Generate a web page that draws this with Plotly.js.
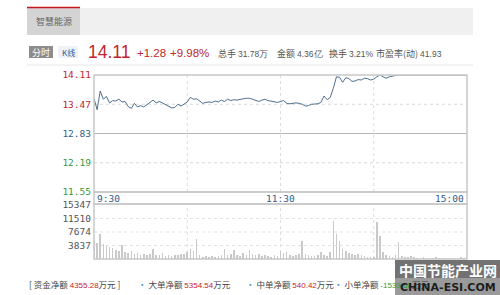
<!DOCTYPE html>
<html><head><meta charset="utf-8">
<script src="https://cdn.plot.ly/plotly-3.0.1.min.js"></script>
<style>html,body{margin:0;padding:0;background:#fff;}#c{width:500px;height:295px;}</style>
</head><body><div id="c"></div>
<script>
// ---- data ----
const stockName = "智慧能源";
const lastPrice = "14.11", change = "+1.28", changePct = "+9.98%";
const statLabels = ["总手", "金额", "换手", "市盈率(动)"];
const statValues = ["31.78万", "4.36亿", "3.21%", "41.93"];
const priceTicks = [11.55, 12.19, 12.83, 13.47, 14.11];
const prevClose = 12.83;
const volTicks = [3837, 7674, 11510, 15347];
const timeLabels = ["9:30", "11:30", "15:00"];
const timeTickPos = [0, 120, 240];
// minute offsets in the trading session (2-minute steps)
const prices = [13.60,13.35,13.76,13.58,13.64,13.50,13.55,13.54,13.58,13.52,
13.53,13.42,13.38,13.49,13.41,13.44,13.41,13.46,13.53,13.56,
13.50,13.53,13.50,13.46,13.43,13.39,13.40,13.47,13.43,13.48,
13.52,13.62,13.58,13.59,13.54,13.49,13.51,13.52,13.51,13.54,
13.52,13.56,13.53,13.58,13.55,13.57,13.56,13.58,13.59,13.60,
13.60,13.58,13.55,13.53,13.56,13.58,13.55,13.54,13.52,13.51,
13.53,13.55,13.49,13.48,13.49,13.50,13.49,13.47,13.43,13.44,
13.47,13.48,13.48,13.51,13.65,13.57,13.62,13.82,14.07,14.06,
13.95,14.05,14.03,13.97,13.98,14.01,14.00,14.04,14.03,14.00,
14.02,14.07,14.11,14.07,14.04,14.07,14.09,14.10,14.11,14.11,
14.11,14.11,14.11,14.11,14.11,14.11,14.11,14.11,14.11,14.11,
14.11,14.11,14.11,14.11,14.11,14.11,14.11,14.11,14.11,14.11,14.11];
const volumes = [5200,4500,7000,4200,3600,3300,3000,2600,2200,4000,
2000,1800,2200,1500,1700,1200,1400,1000,1300,2800,
1200,1000,1600,900,1100,800,1200,1000,1300,1500,
2000,2800,2200,5600,1200,700,800,600,900,700,
800,1000,2800,1000,1400,2500,1200,900,1600,1200,
2500,1400,1000,1300,900,1000,800,700,1000,900,
2200,1800,2000,1200,900,1000,1300,5100,1500,1200,
900,800,1000,2000,1000,900,2000,10900,7200,5000,
2800,2300,1800,1500,1200,1400,1100,800,600,500,
700,10500,6500,2000,1200,800,700,1000,4900,900,
600,500,900,450,400,350,500,300,400,350,
450,300,400,350,300,400,350,300,450,400,500];
const flowLabels = ["资金净额", "大单净额", "中单净额", "小单净额"];
const flowValues = ["4355.28", "5354.54", "540.42", "-1539.68"];
const flowUnit = "万元";
const watermark = ["中国节能产业网", "CHINA-ESI.COM"];

// ---- build ----
const minutes = prices.map((_, i) => i * 2);
const RED = "#c0262d", GREEN = "#2f9a3a", BLUE = "#2f5d8a", GRAY = "#555";
const W = 500, H = 295;
const px = x => x / W, py = y => 1 - y / H;
const XD = [px(94), px(467)];
const YD1 = [py(192), py(75)];
const YD2 = [py(259), py(205)];

const priceTickText = priceTicks.map(v => {
  const c = v > prevClose ? RED : (v < prevClose ? GREEN : BLUE);
  return '<span style="color:' + c + '">' + v.toFixed(2) + '</span>';
});

const traces = [
  {x: minutes, y: prices, type: 'scatter', mode: 'lines', xaxis: 'x', yaxis: 'y',
   line: {color: '#4f6f8f', width: 1}, hoverinfo: 'skip'},
  {x: minutes, y: volumes, type: 'bar', xaxis: 'x2', yaxis: 'y2', width: 1.0,
   marker: {color: '#c9c9c9', line: {width: 0}}, hoverinfo: 'skip'}
];

const shapes = [];
const anns = [];
// header bar
shapes.push({type:'rect', xref:'paper', yref:'paper', x0:px(27), x1:px(473), y0:py(35), y1:py(8), fillcolor:'#f0f0f0', line:{width:0}, layer:'below'});
shapes.push({type:'rect', xref:'paper', yref:'paper', x0:px(27), x1:px(80), y0:py(35), y1:py(8), fillcolor:'#d4d4d4', line:{width:0}, layer:'below'});
shapes.push({type:'line', xref:'paper', yref:'paper', x0:px(27), x1:px(80), y0:py(7.5), y1:py(7.5), line:{color:'#c8161d', width:1.5}});
anns.push({xref:'paper', yref:'paper', x:px(54), y:py(21.5), text:stockName, showarrow:false, xanchor:'center', yanchor:'middle', font:{family:'Noto Sans CJK SC', size:9, color:'#666'}});
// row 2
shapes.push({type:'rect', xref:'paper', yref:'paper', x0:px(29), x1:px(53), y0:py(58), y1:py(46), fillcolor:'#8c8c8c', line:{width:0}, layer:'below'});
shapes.push({type:'rect', xref:'paper', yref:'paper', x0:px(58), x1:px(78), y0:py(58), y1:py(46), fillcolor:'#eef1f6', line:{width:0}, layer:'below'});
anns.push({xref:'paper', yref:'paper', x:px(41), y:py(52), text:'分时', showarrow:false, xanchor:'center', yanchor:'middle', font:{family:'Noto Sans CJK SC', size:9, color:'#fff'}});
anns.push({xref:'paper', yref:'paper', x:px(68), y:py(52), text:'K线', showarrow:false, xanchor:'center', yanchor:'middle', font:{family:'Noto Sans CJK SC', size:8, color:'#2f5d9a'}});
anns.push({xref:'paper', yref:'paper', x:px(86), y:py(52), text:lastPrice, showarrow:false, xanchor:'left', yanchor:'middle', font:{family:'Liberation Sans', size:17.5, color:RED}});
anns.push({xref:'paper', yref:'paper', x:px(135), y:py(53), text:change, showarrow:false, xanchor:'left', yanchor:'middle', font:{family:'Liberation Sans', size:11.5, color:RED}});
anns.push({xref:'paper', yref:'paper', x:px(168), y:py(53), text:changePct, showarrow:false, xanchor:'left', yanchor:'middle', font:{family:'Liberation Sans', size:11.5, color:RED}});
const statX = [216, 275, 327, 374];
statLabels.forEach((l, i) => {
  anns.push({xref:'paper', yref:'paper', x:px(statX[i]), y:py(53), showarrow:false, xanchor:'left', yanchor:'middle',
    text: l + ' <span style="font-family:Liberation Sans;font-size:8.5px">' + statValues[i] + '</span>',
    font:{family:'Noto Sans CJK SC', size:9, color:GRAY}});
});
shapes.push({type:'line', xref:'paper', yref:'paper', x0:px(27), x1:px(473), y0:py(65), y1:py(65), line:{color:'#e6e6e6', width:1}});

// price grid
[13.47, 12.19].forEach(v => shapes.push({type:'line', xref:'x domain', yref:'y', x0:0, x1:1, y0:v, y1:v, line:{color:'#d8d8d8', width:1, dash:'dot'}, layer:'below'}));
shapes.push({type:'line', xref:'x domain', yref:'y', x0:0, x1:1, y0:prevClose, y1:prevClose, line:{color:'#b5b5b5', width:1}, layer:'below'});
[60, 120, 180].forEach(m => {
  shapes.push({type:'line', xref:'x', yref:'y domain', x0:m, x1:m, y0:0, y1:1, line:{color:'#dcdcdc', width:1, dash:'dot'}, layer:'below'});
  shapes.push({type:'line', xref:'x2', yref:'y2 domain', x0:m, x1:m, y0:0, y1:1, line:{color:'#dcdcdc', width:1, dash:'dot'}, layer:'below'});
});
[3837, 7674, 11510].forEach(v => shapes.push({type:'line', xref:'x2 domain', yref:'y2', x0:0, x1:1, y0:v, y1:v, line:{color:'#e2e2e2', width:1, dash:'dot'}, layer:'below'}));
// frames
shapes.push({type:'rect', xref:'paper', yref:'paper', x0:XD[0], x1:XD[1], y0:YD1[0], y1:YD1[1], line:{color:'#c8c8c8', width:1.5}});
shapes.push({type:'rect', xref:'paper', yref:'paper', x0:XD[0], x1:XD[1], y0:py(204), y1:py(192), line:{color:'#c8c8c8', width:1.5}, fillcolor:'rgba(0,0,0,0)'});
shapes.push({type:'rect', xref:'paper', yref:'paper', x0:XD[0], x1:XD[1], y0:YD2[0], y1:py(204), line:{color:'#c8c8c8', width:1.5}});
// time labels
const tAnchors = ['left', 'center', 'right'];
timeLabels.forEach((t, i) => anns.push({xref:'x', yref:'paper', x:timeTickPos[i], y:py(198.5), text:t, showarrow:false, xanchor:tAnchors[i], yanchor:'middle', xshift: i===0?1:(i===2?-1:0), font:{family:'DejaVu Sans Mono', size:9.5, color:BLUE}}));

// bottom flow row
const flowX = [27, 136, 244, 332];
flowLabels.forEach((l, i) => {
  const vcol = flowValues[i].startsWith('-') ? GREEN : RED;
  const val = '<span style="font-family:Liberation Sans;font-size:8px;color:' + vcol + '">' + flowValues[i] + '</span>';
  const txt = i === 0 ? '[ ' + l + ' ' + val + flowUnit + ' ]' : '<span style="color:#3a86c8">•</span> ' + l + ' ' + val + flowUnit;
  anns.push({xref:'paper', yref:'paper', x:px(flowX[i]), y:py(284), text:txt, showarrow:false, xanchor:'left', yanchor:'middle', font:{family:'Noto Sans CJK SC', size:8.5, color:'#444'}});
});
// watermark
shapes.push({type:'rect', xref:'paper', yref:'paper', x0:px(395), x1:px(500), y0:py(278), y1:py(260), fillcolor:'#727272', line:{width:0}});
shapes.push({type:'rect', xref:'paper', yref:'paper', x0:px(395), x1:px(500), y0:py(295), y1:py(278), fillcolor:'#9a9a9a', line:{width:0}});
anns.push({xref:'paper', yref:'paper', x:px(447.5), y:py(269.5), text:'<b>' + watermark[0] + '</b>', showarrow:false, xanchor:'center', yanchor:'middle', font:{family:'Noto Sans CJK SC', size:14, color:'#fff'}});
anns.push({xref:'paper', yref:'paper', x:px(447.5), y:py(287), text:'<b>' + watermark[1] + '</b>', showarrow:false, xanchor:'center', yanchor:'middle', font:{family:'DejaVu Sans', size:11, color:'#1e1e1e'}});

const layout = {
  width: W, height: H, margin: {l:0, r:0, t:0, b:0}, paper_bgcolor:'#fff', plot_bgcolor:'#fff', showlegend:false,
  xaxis: {domain: XD, range: [0, 240], anchor:'y', showgrid:false, zeroline:false, showticklabels:false, ticks:'', fixedrange:true},
  yaxis: {domain: YD1, range: [11.55, 14.11], anchor:'x', showgrid:false, zeroline:false, tickvals: priceTicks, ticktext: priceTickText, ticks:'', ticklabelstandoff: 2, tickfont:{family:'DejaVu Sans Mono', size:9.5}},
  xaxis2: {domain: XD, range: [0, 240], anchor:'y2', showgrid:false, zeroline:false, showticklabels:false, ticks:''},
  yaxis2: {domain: YD2, range: [0, 15348], anchor:'x2', showgrid:false, zeroline:false, tickvals: volTicks, ticktext: volTicks.map(String), ticks:'', ticklabelstandoff: 2, tickfont:{family:'DejaVu Sans Mono', size:9.5, color:'#555'}},
  bargap: 0,
  shapes: shapes, annotations: anns
};
Plotly.newPlot('c', traces, layout, {staticPlot:true, displayModeBar:false});
</script></body></html>
